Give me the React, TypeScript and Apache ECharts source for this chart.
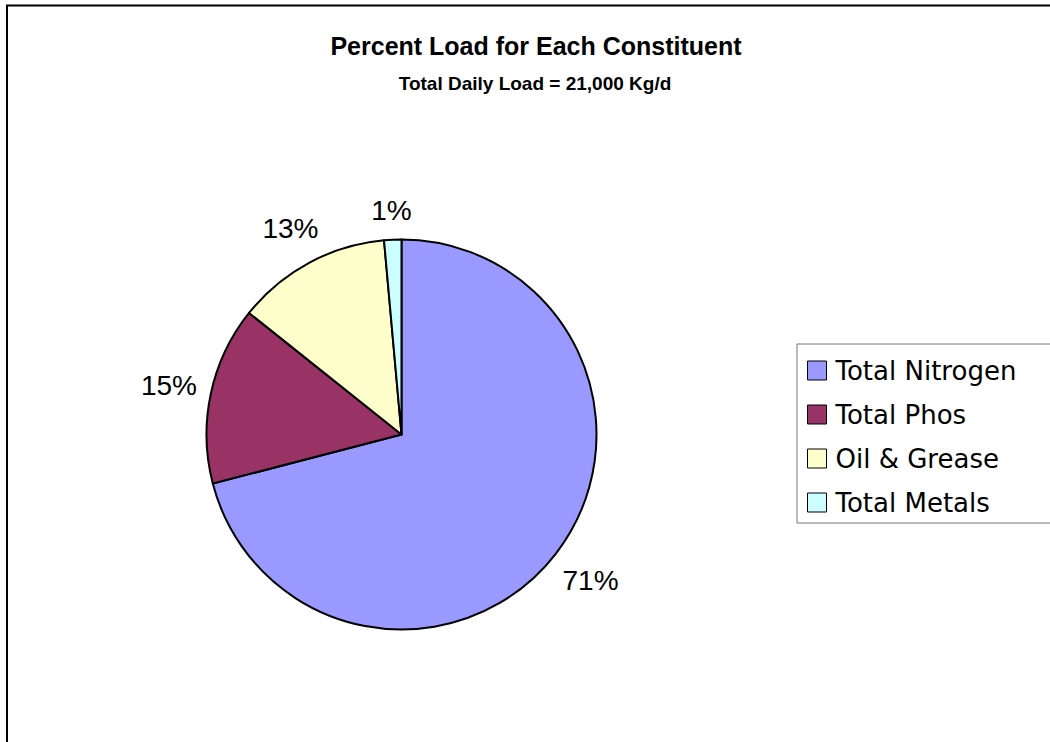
import React, { useEffect, useRef } from "react";
import * as echarts from "echarts";

const categories = ["Total Nitrogen", "Total Phos", "Oil & Grease", "Total Metals"];
const loadsKgPerDay = [14900, 3100, 2700, 300];
const sliceColors = ["#9999FF", "#993366", "#FFFFCC", "#CCFFFF"];
const titleText = "Percent Load for Each Constituent";
const subtitleText = "Total Daily Load = 21,000 Kg/d";

const CX = 401.5;
const CY = 434.5;
const R = 195;

export default function App() {
  const ref = useRef<HTMLDivElement>(null);

  useEffect(() => {
    if (!ref.current) return;
    const chart = echarts.init(ref.current, null, { renderer: "svg" });

    const total = loadsKgPerDay.reduce((a, b) => a + b, 0);
    const midAngles: number[] = [];
    let acc = 0;
    loadsKgPerDay.forEach((v) => {
      midAngles.push(((acc + v / 2) / total) * Math.PI * 2);
      acc += v;
    });

    chart.setOption({
      animation: false,
      backgroundColor: "#ffffff",
      title: [
        {
          text: titleText,
          left: 536,
          top: 46,
          padding: 0,
          textAlign: "center",
          textVerticalAlign: "middle",
          textStyle: {
            fontFamily: "Liberation Sans, Arial, sans-serif",
            fontWeight: "bold",
            fontSize: 25,
            color: "#000",
          },
        },
        {
          text: subtitleText,
          left: 535,
          top: 83,
          padding: 0,
          textAlign: "center",
          textVerticalAlign: "middle",
          textStyle: {
            fontFamily: "Liberation Sans, Arial, sans-serif",
            fontWeight: "bold",
            fontSize: 19,
            color: "#000",
          },
        },
      ],
      legend: {
        orient: "vertical",
        left: 797,
        top: 344,
        padding: [9.5, 60, 3.5, 10],
        itemWidth: 19,
        itemHeight: 19,
        itemGap: 10,
        icon: "rect",
        selectedMode: false,
        borderColor: "#777",
        borderWidth: 1,
        itemStyle: { borderColor: "#000", borderWidth: 1 },
        textStyle: {
          fontFamily: "DejaVu Sans, sans-serif",
          fontSize: 26,
          lineHeight: 26,
          color: "#000",
          padding: [0, 0, 8, 4],
        },
        data: categories,
      },
      graphic: [
        {
          type: "rect",
          shape: { x: 7, y: 5.5, width: 1200, height: 900 },
          style: { fill: "none", stroke: "#000", lineWidth: 2 },
          silent: true,
        },
      ],
      series: [
        {
          type: "pie",
          center: [CX, CY],
          radius: R,
          startAngle: 90,
          clockwise: true,
          avoidLabelOverlap: false,
          color: sliceColors,
          itemStyle: { borderColor: "#000", borderWidth: 2 },
          emphasis: { disabled: true },
          labelLine: { show: false },
          label: {
            show: true,
            position: "outside",
            fontFamily: "Liberation Sans, Arial, sans-serif",
            fontSize: 28,
            color: "#000",
            formatter: (p: any) => Math.round(p.percent) + "%",
          },
          labelLayout: (params: any) => {
            const a = midAngles[params.dataIndex];
            const ux = Math.sin(a);
            const uy = -Math.cos(a);
            const w = params.labelRect.width;
            const h = 32;
            const ext = Math.abs(ux) * (w / 2) + Math.abs(uy) * (h / 2);
            const d = R + 12 + ext;
            return {
              x: CX + ux * d,
              y: CY + uy * d,
              align: "center",
              verticalAlign: "middle",
            };
          },
          data: categories.map((name, i) => ({ name, value: loadsKgPerDay[i] })),
        },
      ],
    });

    return () => chart.dispose();
  }, []);

  return (
    <div
      ref={ref}
      style={{ position: "absolute", left: 0, top: 0, width: 1050, height: 742 }}
    />
  );
}
